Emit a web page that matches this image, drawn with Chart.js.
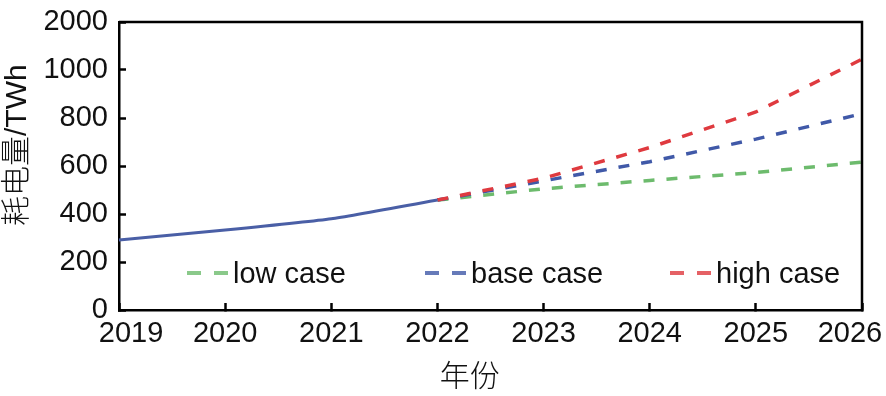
<!DOCTYPE html>
<html>
<head>
<meta charset="utf-8">
<script src="https://cdn.jsdelivr.net/npm/chart.js@4.4.0/dist/chart.umd.min.js"></script>
<style>
  html, body { margin: 0; padding: 0; background: #fff; }
</style>
</head>
<body>
<canvas id="chart" width="886" height="396"></canvas>
<script>
// ── Data ──────────────────────────────────────────────
const years       = ['2019', '2020', '2021', '2022', '2023', '2024', '2025', '2026'];
const actual      = [292, 333, 380, 458, null, null, null, null];
const lowCase     = [null, null, null, 458, 505, 540, 573, 616];
const baseCase    = [null, null, null, 458, 538, 618, 712, 818];
const highCase    = [null, null, null, 458, 549, 677, 825, 1045];
const yTickLabels = ['0', '200', '400', '600', '800', '1000', '2000'];
const seriesNames = ['low case', 'base case', 'high case'];

const FONT = "'Liberation Sans', Arial, 'Noto Sans CJK SC', sans-serif";
const INK  = '#111';
const GREEN = '#6dbb6d', BLUE = '#4059a8', RED = '#df3a3f';

// ── Frame (top + right edges of the box) ─────────────
const framePlugin = {
  id: 'frame',
  afterDraw(chart) {
    const { ctx, chartArea: a } = chart;
    ctx.save();
    ctx.strokeStyle = '#000';
    ctx.lineWidth = 2.5;
    ctx.beginPath();
    ctx.moveTo(a.left, a.top);
    ctx.lineTo(a.right, a.top);
    ctx.lineTo(a.right, a.bottom);
    ctx.stroke();
    ctx.restore();
  }
};

// ── Legend drawn inside the plot, along the bottom ───
const inLegend = {
  id: 'inLegend',
  afterDatasetsDraw(chart, args, opts) {
    const { ctx, chartArea: a } = chart;
    const y = a.bottom - 37;
    ctx.save();
    ctx.font = '29px ' + FONT;
    ctx.textBaseline = 'alphabetic';
    opts.items.forEach((idx, k) => {
      const ds = chart.data.datasets[idx];
      const x = a.left + opts.offsets[k];
      ctx.globalAlpha = 0.8;
      ctx.strokeStyle = ds.borderColor;
      ctx.lineWidth = 4;
      ctx.beginPath();
      ctx.moveTo(x, y);      ctx.lineTo(x + 14, y);
      ctx.moveTo(x + 27, y); ctx.lineTo(x + 41, y);
      ctx.stroke();
      ctx.globalAlpha = 1;
      ctx.fillStyle = INK;
      ctx.fillText(ds.label, x + 46, y + 10);
    });
    ctx.restore();
  }
};

const dashed = (label, data, color) => ({
  label, data, borderColor: color, backgroundColor: color,
  borderWidth: 3.5, borderDash: [11, 12], pointRadius: 0, tension: 0
});

new Chart(document.getElementById('chart'), {
  type: 'line',
  data: {
    labels: years,
    datasets: [
      { label: 'actual', data: actual, borderColor: '#4a5fa6', borderWidth: 3, pointRadius: 0, tension: 0.15 },
      dashed(seriesNames[2], highCase, RED),
      dashed(seriesNames[1], baseCase, BLUE),
      dashed(seriesNames[0], lowCase, GREEN),
    ]
  },
  options: {
    responsive: false,
    animation: false,
    devicePixelRatio: 1,
    layout: { padding: { top: 22, right: 24, left: 0, bottom: 0 } },
    plugins: {
      legend: { display: false },
      tooltip: { enabled: false },
      inLegend: { items: [3, 2, 1], offsets: [68, 306, 551] }
    },
    scales: {
      x: {
        border: { color: '#000', width: 2.5 },
        grid: { drawOnChartArea: false, tickLength: -7, tickWidth: 2.5, tickColor: '#000' },
        ticks: {
          color: INK, font: { family: FONT, size: 29 }, padding: 14,
          autoSkip: false, maxRotation: 0, minRotation: 0,
          callback: (v, i) => i === 0 ? '   ' + years[i] : i === years.length - 1 ? years[i] + '   ' : years[i]
        },
        title: {
          display: true, text: '年份     ', color: INK, padding: 0,
          font: { family: FONT, size: 30, weight: 300 }
        },
        afterFit(s) { s.paddingLeft = 0; s.paddingRight = 0; s.height = 86; }
      },
      y: {
        min: 0, max: 1200,
        border: { color: '#000', width: 2.5 },
        grid: { drawOnChartArea: false, tickLength: -7, tickWidth: 2.5, tickColor: '#000' },
        ticks: {
          stepSize: 200, color: INK, font: { family: FONT, size: 29 }, padding: 18,
          callback: (v, i) => yTickLabels[i]
        },
        title: {
          display: true, text: '     耗电量/TWh', color: INK, padding: 0,
          font: { family: FONT, size: 30, weight: 300 }
        },
        afterFit(s) { s.paddingTop = 0; s.paddingBottom = 0; s.width = 119; }
      }
    }
  },
  plugins: [framePlugin, inLegend]
});
</script>
</body>
</html>
